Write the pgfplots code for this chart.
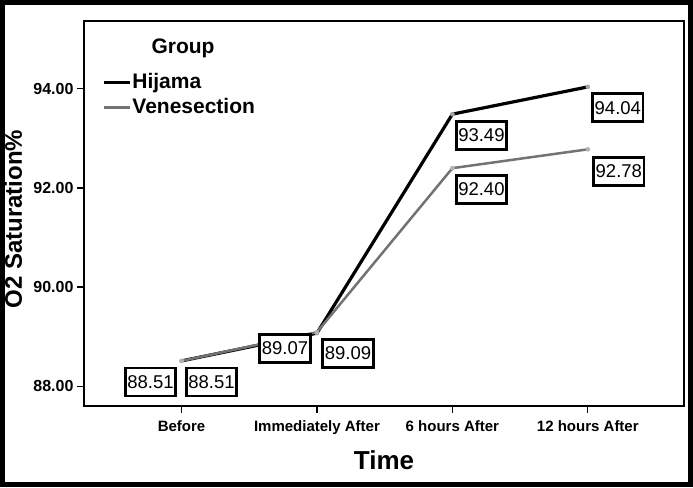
\documentclass[border=0pt]{standalone}
\usepackage{pgfplots}
\pgfplotsset{compat=1.18}
\usepackage{pgfplotstable}
\usepackage{fontspec}
\setmainfont{Liberation Sans}

% x y dx dy  (label offsets in pt)
\pgfplotstableread{
x y dx dy
0 88.51 -31 -21
1 89.07 -32 -15
2 93.49 29 -21
3 94.04 30 -21
}\hijama
\pgfplotstableread{
x y dx dy
0 88.51 30 -21
1 89.09 31 -21
2 92.40 29 -21
3 92.78 31 -22
}\venesection

\begin{document}
\begin{tikzpicture}[x=1pt,y=1pt]
\useasboundingbox (0,0) rectangle (693,487);
\draw[line width=5pt] (2.5,2.5) rectangle (690.5,484.5);
\begin{axis}[
  at={(84pt,81pt)}, anchor=south west,
  scale only axis, width=600pt, height=385pt,
  xmin=-0.72, xmax=3.71, ymin=87.6, ymax=95.37,
  xtick={0,1,2,3},
  xticklabels={Before,Immediately After,6 hours After,12 hours After},
  ytick={88,90,92,94},
  xtick pos=bottom, ytick pos=left,
  tick align=outside, major tick length=7pt,
  axis line style={line width=2pt},
  tick style={line width=1.2pt, black},
  /pgf/number format/.cd, fixed, fixed zerofill, precision=2, assume math mode=true,
  /pgfplots/.cd,
  xticklabel style={font=\bfseries\fontsize{15}{16}\selectfont, yshift=-4pt},
  yticklabel style={font=\bfseries\fontsize{16}{18}\selectfont},
  xlabel={Time},
  ylabel={O2 Saturation\%},
  xlabel style={font=\bfseries\fontsize{26}{28}\selectfont, at={(axis description cs:0.5,-0.140)}, anchor=center},
  ylabel style={font=\bfseries\fontsize{24}{26}\selectfont, at={(axis description cs:-0.118,0.485)}, anchor=center},
  legend style={at={(rel axis cs:0.03,0.868)}, anchor=north west, draw=none, fill=none,
    font=\bfseries\fontsize{21}{24}\selectfont, inner sep=0pt, row sep=4pt,
    nodes={inner sep=1pt, text height=15pt, text depth=4pt}},
  legend cell align=left,
  legend image code/.code={\draw[#1] (0pt,0pt) -- (26pt,0pt);},
  nodes near coords={\pgfmathprintnumber[fixed,fixed zerofill,precision=2,assume math mode=true]{\pgfplotspointmeta}},
  nodes near coords style={anchor=center, draw=black, line width=2.8pt, fill=white,
    font=\fontsize{18.5}{20}\selectfont, inner xsep=2pt, minimum height=28pt,
    xshift=\dx, yshift=\dy, text=black},
  visualization depends on={\thisrow{dx}\as\dx},
  visualization depends on={\thisrow{dy}\as\dy},
  clip=false,
]
\addplot[black, line width=3.2pt, mark=*, mark size=2pt, mark options={gray!70, line width=0.5pt}, point meta=explicit]
  table[x=x, y=y, meta=y] {\hijama};
\addlegendentry{Hijama}
\addplot[gray!90!black, line width=2.5pt, mark=*, mark size=2pt, mark options={gray!60, line width=0.5pt}, point meta=explicit]
  table[x=x, y=y, meta=y] {\venesection};
\addlegendentry{Venesection}
\node[font=\bfseries\fontsize{21}{24}\selectfont] at (rel axis cs:0.165,0.93) {Group};
\end{axis}
\end{tikzpicture}
\end{document}
